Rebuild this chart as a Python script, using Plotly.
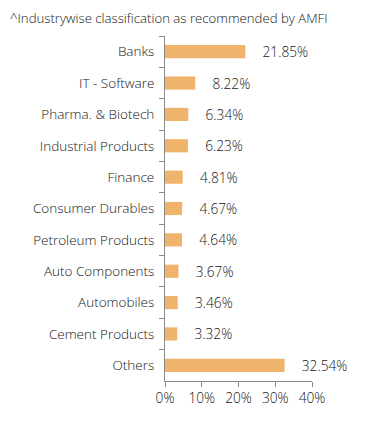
import plotly.graph_objects as go

categories = ["Banks", "IT - Software", "Pharma. & Biotech", "Industrial Products", "Finance",
              "Consumer Durables", "Petroleum Products", "Auto Components", "Automobiles",
              "Cement Products", "Others"]
values = [21.85, 8.22, 6.34, 6.23, 4.81, 4.67, 4.64, 3.67, 3.46, 3.32, 32.54]
tick_vals = [0, 10, 20, 30, 40]
tick_text = ["0%", "10%", "20%", "30%", "40%"]

FONT = "Open Sans"
TXT = "#151515"
W, H = 383, 426
L, T, PW, PH = 157, 28, 147, 345

fig = go.Figure(go.Bar(
    x=values, y=categories, orientation="h",
    marker=dict(color="#F0B36B", line=dict(width=0)),
    width=0.42,
    text=["    " + f"{v:.2f}%" for v in values],
    textposition="outside",
    constraintext="none",
    textfont=dict(family=FONT, size=13.7, color=TXT, weight=300),
    cliponaxis=False,
))

fig.update_layout(
    width=W, height=H,
    margin=dict(l=L, r=W - L - PW, t=T, b=H - T - PH, autoexpand=False),
    plot_bgcolor="white", paper_bgcolor="white",
    showlegend=False,
    font=dict(family=FONT, size=12, color=TXT),
    annotations=[dict(text="^Industrywise classification as recommended by AMFI",
                      xref="paper", yref="paper", x=-L / PW, y=1 + (T - 10) / PH,
                      xanchor="left", yanchor="middle", showarrow=False,
                      font=dict(family=FONT, size=13.2, color=TXT, weight=300))],
)
fig.update_xaxes(range=[0, 40], tickvals=tick_vals, ticktext=tick_text, automargin=False,
                 showgrid=False, zeroline=False, showline=True, linecolor="#8a8a8a",
                 linewidth=1, ticks="outside", ticklen=5, tickcolor="#8a8a8a",
                 tickfont=dict(family=FONT, size=13.7, color=TXT, weight=300))
fig.update_yaxes(autorange="reversed", showgrid=False, zeroline=False, showline=True,
                 automargin=False,
                 linecolor="#8a8a8a", linewidth=1, ticks="outside", ticklen=5,
                 tickcolor="#8a8a8a", tickson="boundaries", ticklabelstandoff=7,
                 tickfont=dict(family=FONT, size=13.5, color=TXT, weight=300))

fig.write_html("out.html")
